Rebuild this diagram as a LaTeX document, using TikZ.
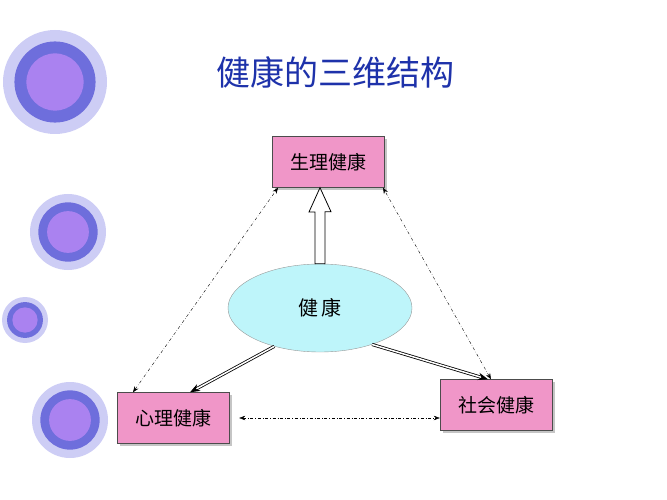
\documentclass[tikz,border=0pt]{standalone}
\usepackage{fontspec}
\setmainfont{Noto Sans CJK SC}
\usetikzlibrary{shapes.geometric,arrows.meta,shadows,calc}
\definecolor{boxpink}{RGB}{240,150,200}
\definecolor{ringout}{RGB}{205,205,245}
\definecolor{ringmid}{RGB}{110,110,220}
\definecolor{ringin}{RGB}{170,130,240}
\definecolor{titleblue}{RGB}{30,50,170}
\definecolor{ellfill}{RGB}{190,245,250}
\tikzset{
  healthbox/.style={draw=black!70, fill=boxpink, minimum width=112pt, minimum height=51pt, font=\fontsize{19}{19}\selectfont, drop shadow={shadow xshift=2.5pt, shadow yshift=-2.5pt, fill=black!45}},
  linkarrow/.style={dash dot, thin, {Stealth[length=6pt]}-{Stealth[length=6pt]}},
  mainarrow/.style={double, double distance=1.5pt, thick, -{Stealth[length=10pt]}}
}
\begin{document}
\begin{tikzpicture}[x=1pt,y=-1pt]
\useasboundingbox (0,0) rectangle (667,500);
% decorative rings
\foreach \cx/\cy/\r in {55/82/52, 68/232/38, 25/320/23, 70/420/38} {
  \fill[ringout] (\cx,\cy) circle (\r);
  \fill[ringmid] (\cx,\cy) circle (0.78*\r);
  \fill[ringin] (\cx,\cy) circle (0.55*\r);
}
\node[text=titleblue, font=\fontsize{34}{34}\selectfont] (title) at (335,72) {健康的三维结构};
\node[healthbox] (body) at (328,162) {生理健康};
\node[healthbox] (mind) at (173,418) {心理健康};
\node[healthbox] (social) at (496,405) {社会健康};
\node[ellipse, draw=black!40, fill=ellfill, minimum width=184pt, minimum height=88pt, font=\fontsize{20}{20}\selectfont] (health) at (320,308) {健\,康};
% hollow arrow up
\draw[fill=white, line width=0.8pt] ([xshift=-5pt]health.north) -- ([xshift=-5pt]health.north |- 0,212) -- ++(-6,0) -- (health.north |- body.south) -- ++(11,24) -- ++(-6,0) -- ([xshift=5pt]health.north) -- cycle;
\draw[mainarrow] (health.220) -- ([xshift=17pt]mind.north);
\draw[mainarrow] (health.-35) -- ([xshift=-8pt]social.north);
\draw[linkarrow] ([xshift=-40pt]mind.north) -- ([xshift=-50pt]body.south);
\draw[linkarrow] ([xshift=-5pt]social.north) -- ([xshift=55pt]body.south);
\draw[linkarrow] ([xshift=10pt]mind.east) -- (mind.east -| social.west);
\end{tikzpicture}
\end{document}
